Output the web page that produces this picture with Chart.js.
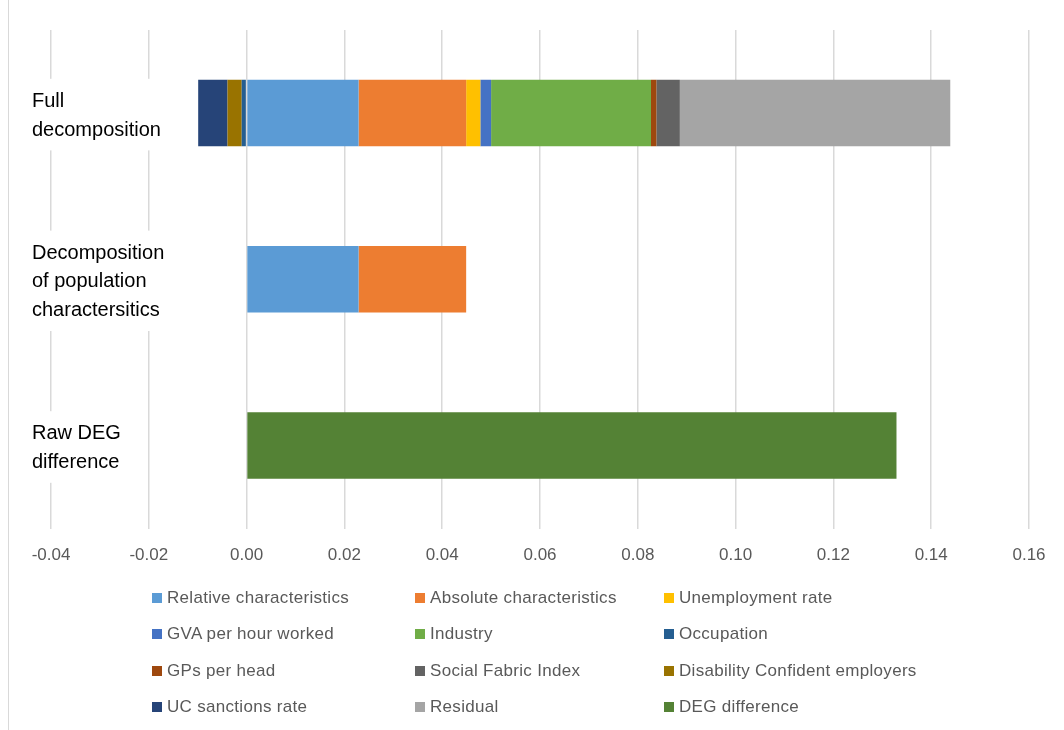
<!DOCTYPE html>
<html>
<head>
<meta charset="utf-8">
<script src="https://cdn.jsdelivr.net/npm/chart.js@4"></script>
<style>
  html, body { margin: 0; padding: 0; background: #fff; }
  #wrap { position: relative; height: 730px; width: 1056px; margin-left: 8px; border-left: 1px solid #d9d9d9; box-sizing: border-box; }
  #chart { position: absolute; left: -9px; top: 0; }
  #legend {
    position: absolute; left: 143px; top: 580px;
    display: grid; grid-template-columns: 263px 249px 280px; grid-auto-rows: 36.3px;
    font-family: "Liberation Sans", sans-serif; font-size: 17px; letter-spacing: 0.3px; color: #595959;
  }
  #legend div { display: flex; align-items: center; white-space: nowrap; }
  #legend span.box { width: 10px; height: 10px; margin-right: 5px; display: inline-block; }
</style>
</head>
<body>
<div id="wrap">
  <canvas id="chart" width="1064" height="598"></canvas>
  <div id="legend"></div>
</div>
<script>
/****************************************************************************************
 * DEG decomposition - horizontal stacked bars
 ****************************************************************************************/

const categories = [
  ["Full", "decomposition"],
  ["Decomposition", "of population", "charactersitics"],
  ["Raw DEG", "difference"],
];

const seriesNames = [
  "Relative characteristics",
  "Absolute characteristics",
  "Unemployment rate",
  "GVA per hour worked",
  "Industry",
  "Occupation",
  "GPs per head",
  "Social Fabric Index",
  "Disability Confident employers",
  "UC sanctions rate",
  "Residual",
  "DEG difference",
];

const seriesColors = [
  "#5B9BD5", "#ED7D31", "#FFC000",
  "#4472C4", "#70AD47", "#255E91",
  "#9E480E", "#636363", "#997300",
  "#264478", "#A5A5A5", "#548235",
];

// values per series: [full, population, raw]
const relativeChar   = [0.0229, 0.0229, null];
const absoluteChar   = [0.0220, 0.0220, null];
const unemployment   = [0.0029, null, null];
const gvaPerHour     = [0.0022, null, null];
const industry       = [0.0327, null, null];
const occupation     = [-0.0010, null, null];
const gpsPerHead     = [0.0011, null, null];
const socialFabric   = [0.0048, null, null];
const disabilityConf = [-0.0029, null, null];
const ucSanctions    = [-0.0060, null, null];
const residual       = [0.0553, null, null];
const degDifference  = [null, null, 0.1329];

const seriesValues = [
  relativeChar, absoluteChar, unemployment,
  gvaPerHour, industry, occupation,
  gpsPerHead, socialFabric, disabilityConf,
  ucSanctions, residual, degDifference,
];

const xMin = -0.04;
const xMax = 0.16;
const xStep = 0.02;

const datasets = seriesNames.map((name, i) => ({
  label: name,
  data: seriesValues[i],
  backgroundColor: seriesColors[i],
  borderWidth: 0,
  categoryPercentage: 1,
  barPercentage: 0.4,
}));

// category labels sit inside the plot (over the gridlines) on a white patch, like excel
const categoryLabels = {
  id: "categoryLabels",
  beforeDatasetsDraw(chart) {
    const ctx = chart.ctx;
    const yScale = chart.scales.y;
    const fontSize = 20;
    const lineH = 28.8;
    const left = 32;
    ctx.save();
    ctx.font = fontSize + "px 'Liberation Sans'";
    ctx.textAlign = "left";
    ctx.textBaseline = "middle";
    chart.data.labels.forEach((lines, i) => {
      const cy = yScale.getPixelForTick(i) + 2.5;
      const top = cy - (lines.length - 1) * lineH / 2;
      const w = Math.max(...lines.map(l => ctx.measureText(l).width));
      ctx.fillStyle = "#fff";
      ctx.fillRect(left - 4, top - lineH / 2 - 8, w + 8, lines.length * lineH + 14);
      ctx.fillStyle = "#000";
      lines.forEach((l, k) => ctx.fillText(l, left, top + k * lineH));
    });
    ctx.restore();
  },
};

new Chart(document.getElementById("chart"), {
  type: "bar",
  data: { labels: categories, datasets: datasets },
  plugins: [categoryLabels],
  options: {
    indexAxis: "y",
    responsive: false,
    animation: false,
    layout: { padding: { left: 51, right: 35, top: 30, bottom: 15 } },
    plugins: {
      legend: { display: false },
      tooltip: { enabled: false },
    },
    scales: {
      x: {
        stacked: true,
        min: xMin,
        max: xMax,
        border: { display: false },
        grid: { color: "#d9d9d9", lineWidth: 1.5, drawTicks: false },
        ticks: {
          stepSize: xStep,
          padding: 17,
          color: "#595959",
          font: { family: "Liberation Sans", size: 17 },
          callback: (v) => Number(v).toFixed(2),
        },
      },
      y: {
        stacked: true,
        border: { display: false },
        grid: { display: false, drawTicks: false },
        ticks: { display: false },
      },
    },
  },
});

// legend in three columns, like the original
const legendEl = document.getElementById("legend");
seriesNames.forEach((name, i) => {
  const item = document.createElement("div");
  const box = document.createElement("span");
  box.className = "box";
  box.style.background = seriesColors[i];
  item.appendChild(box);
  item.appendChild(document.createTextNode(name));
  legendEl.appendChild(item);
});
</script>
</body>
</html>
